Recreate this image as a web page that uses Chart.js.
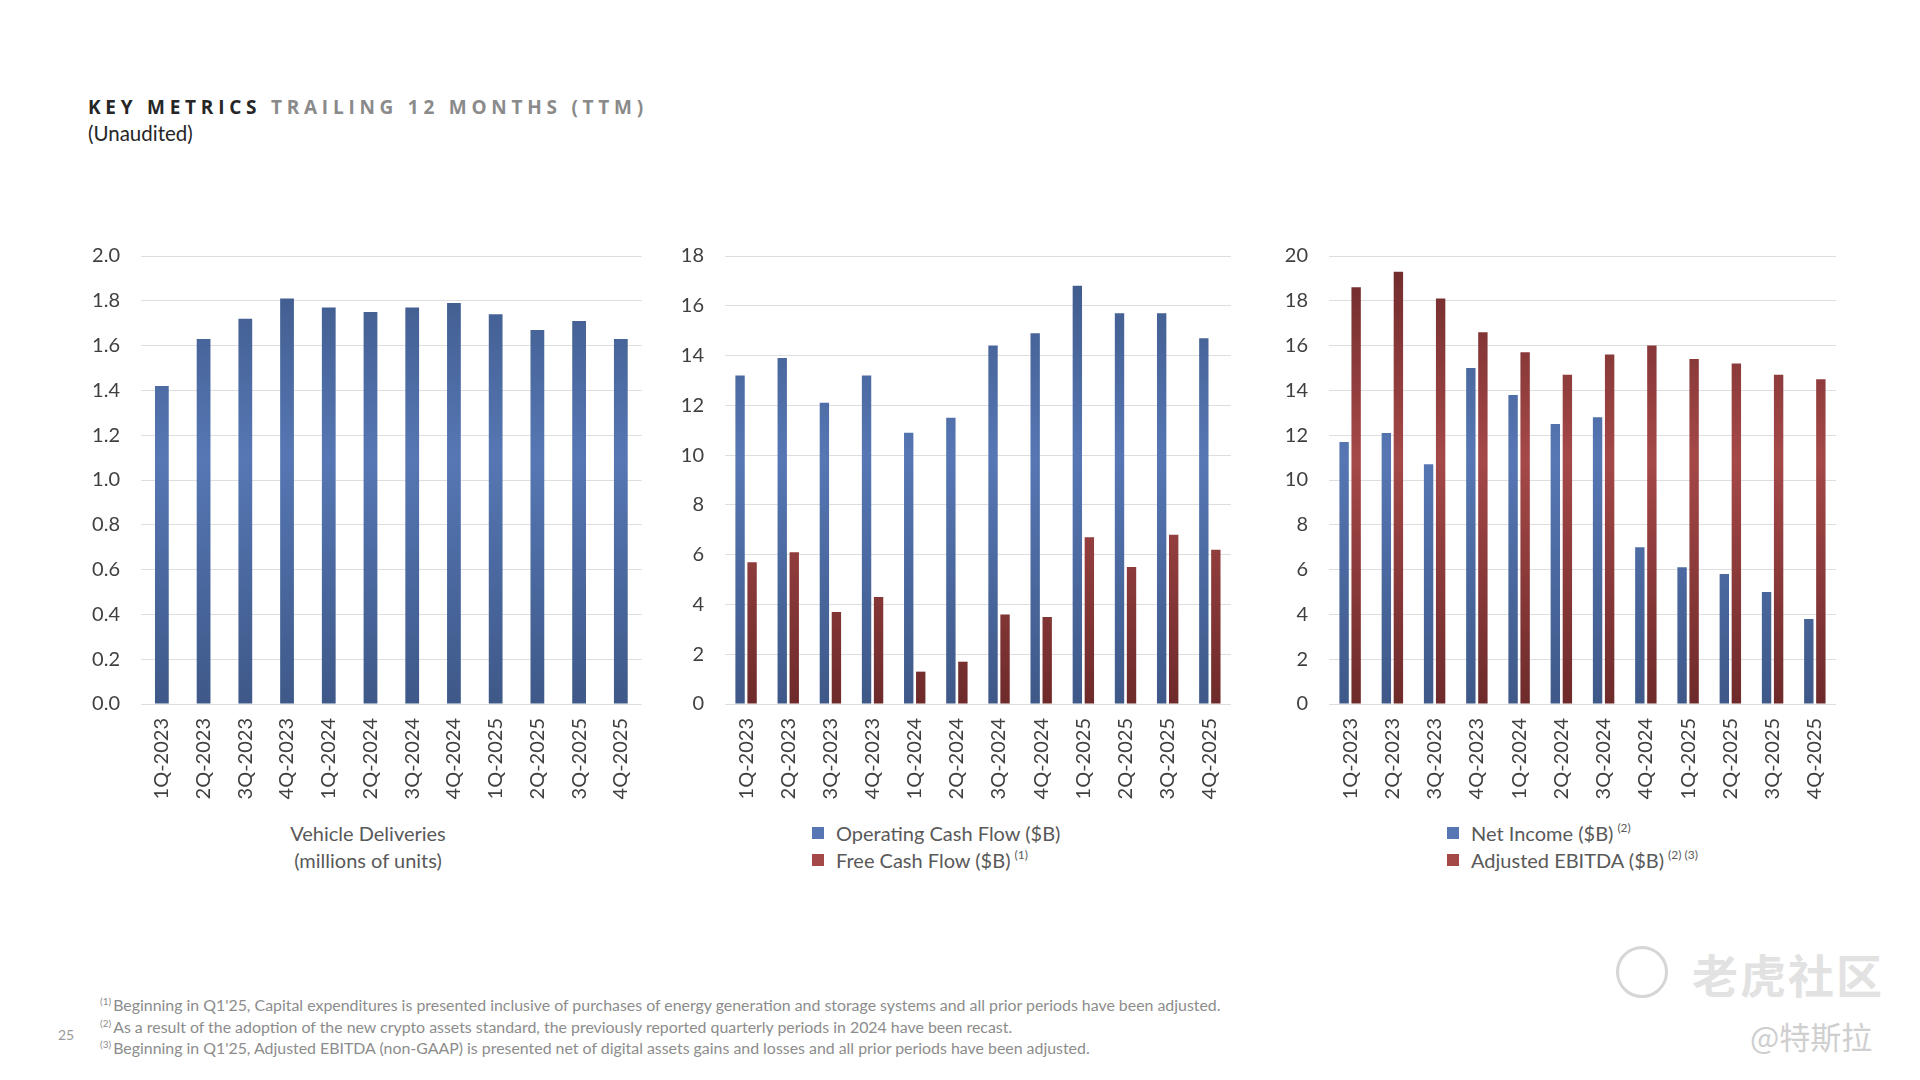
<!DOCTYPE html>
<html>
<head>
<meta charset="utf-8">
<script src="https://cdn.jsdelivr.net/npm/chart.js@4.4.1/dist/chart.umd.min.js"></script>
<style>
  body { margin: 0; width: 1920px; height: 1080px; background: #ffffff; position: relative; overflow: hidden; font-family: Lato, "Open Sans", sans-serif; }
  .abs { position: absolute; }
  .chart-box { position: absolute; }
  #title { left: 88px; top: 94px; font-family: "Open Sans", sans-serif; font-weight: 700; font-size: 19px; letter-spacing: 4.75px; color: #262626; white-space: nowrap; }
  #title span { color: #8a8a8a; }
  #sub { left: 88px; top: 121px; font-size: 20.5px; color: #262626; }
  .legend { position: absolute; font-size: 20px; color: #595959; line-height: 27px; white-space: nowrap; }
  .sq { display: inline-block; width: 12px; height: 12px; margin-right: 12px; vertical-align: 2px; }
  .legend sup { font-size: 12px; vertical-align: 9px; line-height: 0; margin-left: 4px; }
  .notes { left: 100px; top: 994px; font-size: 15.9px; color: #8c8c8c; line-height: 21.5px; white-space: nowrap; }
  .notes sup { font-size: 10px; vertical-align: 6px; line-height: 0; margin-right: 2px; }
</style>
</head>
<body>
<div id="title" class="abs">KEY METRICS <span>TRAILING 12 MONTHS (TTM)</span></div>
<div id="sub" class="abs">(Unaudited)</div>

<div class="chart-box" style="left:60px; top:223px; width:599px; height:581px;"><canvas id="deliveriesChart"></canvas></div>
<div class="chart-box" style="left:645px; top:223px; width:603px; height:581px;"><canvas id="cashChart"></canvas></div>
<div class="chart-box" style="left:1249px; top:223px; width:604px; height:581px;"><canvas id="earningsChart"></canvas></div>

<div class="legend" style="left:288px; top:820px; text-align:center; width:160px;">Vehicle Deliveries<br>(millions of units)</div>
<div class="legend" style="left:812px; top:820px;">
  <div><span class="sq" style="background:#5677b4"></span>Operating Cash Flow ($B)</div>
  <div><span class="sq" style="background:#a54848"></span>Free Cash Flow ($B)<sup>(1)</sup></div>
</div>
<div class="legend" style="left:1447px; top:820px;">
  <div><span class="sq" style="background:#5677b4"></span>Net Income ($B)<sup>(2)</sup></div>
  <div><span class="sq" style="background:#a54848"></span>Adjusted EBITDA ($B)<sup>(2) (3)</sup></div>
</div>

<div class="abs notes">
  <div><sup>(1)</sup>Beginning in Q1'25, Capital expenditures is presented inclusive of purchases of energy generation and storage systems and all prior periods have been adjusted.</div>
  <div><sup>(2)</sup>As a result of the adoption of the new crypto assets standard, the previously reported quarterly periods in 2024 have been recast.</div>
  <div><sup>(3)</sup>Beginning in Q1'25, Adjusted EBITDA (non-GAAP) is presented net of digital assets gains and losses and all prior periods have been adjusted.</div>
</div>
<div class="abs" style="left:58px; top:1026px; font-size:14px; color:#9a9a9a;">25</div>

<!-- watermark -->
<div class="abs" style="left:1616px; top:946px; width:46px; height:46px; border:3px solid #d6d6d6; border-radius:50%;"></div>
<div class="abs" style="left:1692px; top:940px; font-family:'Noto Sans CJK SC'; font-size:46px; font-weight:700; color:#e2e2e2; letter-spacing:2px;">老虎社区</div>
<div class="abs" style="left:1750px; top:1013px; font-family:'Noto Sans CJK SC'; font-size:31px; color:#cfcfcf;">@特斯拉</div>

<script>
// Categories and series (TTM values)
const quarters = ["1Q-2023", "2Q-2023", "3Q-2023", "4Q-2023", "1Q-2024", "2Q-2024",
  "3Q-2024", "4Q-2024", "1Q-2025", "2Q-2025", "3Q-2025", "4Q-2025"];

const deliveries = [1.42, 1.63, 1.72, 1.81, 1.77, 1.75, 1.77, 1.79, 1.74, 1.67, 1.71, 1.63];

const operatingCashFlow = [13.2, 13.9, 12.1, 13.2, 10.9, 11.5, 14.4, 14.9, 16.8, 15.7, 15.7, 14.7];
const freeCashFlow = [5.7, 6.1, 3.7, 4.3, 1.3, 1.7, 3.6, 3.5, 6.7, 5.5, 6.8, 6.2];

const netIncome = [11.7, 12.1, 10.7, 15.0, 13.8, 12.5, 12.8, 7.0, 6.1, 5.8, 5.0, 3.8];
const adjustedEbitda = [18.6, 19.3, 18.1, 16.6, 15.7, 14.7, 15.6, 16.0, 15.4, 15.2, 14.7, 14.5];

// Axis ranges
const deliveryAxis = { max: 2.0, step: 0.2 };
const cashAxis = { max: 18, step: 2 };
const earningsAxis = { max: 20, step: 2 };

const BLUE = ["#3e5888", "#5677b4"];
const RED = ["#6e2a2a", "#a54848"];

// Slight top/bottom shading like the original Excel bars
function barFill(colors) {
  return (context) => {
    const area = context.chart.chartArea;
    if (!area) return colors[1];
    const g = context.chart.ctx.createLinearGradient(0, area.top, 0, area.bottom);
    g.addColorStop(0, colors[0]);
    g.addColorStop(0.45, colors[1]);
    g.addColorStop(1, colors[0]);
    return g;
  };
}

function buildOptions(axis, yWidth, decimals, catPct, barPct) {
  return {
    responsive: true,
    maintainAspectRatio: false,
    animation: false,
    datasets: { bar: { categoryPercentage: catPct, barPercentage: barPct } },
    layout: { padding: { top: 15, right: 4, left: 0, bottom: 0 } },
    plugins: { legend: { display: false }, tooltip: { enabled: false } },
    scales: {
      x: {
        grid: { display: false, drawTicks: false },
        border: { display: false },
        ticks: {
          color: "#404040",
          font: { family: "Lato", size: 20 },
          minRotation: 90,
          maxRotation: 90,
          padding: 14,
        },
        afterFit: (scale) => { scale.height = 100; },
      },
      y: {
        min: 0,
        max: axis.max,
        grid: { color: "#dedede", lineWidth: 1, drawTicks: false },
        border: { display: false },
        ticks: {
          stepSize: axis.step,
          color: "#404040",
          font: { family: "Lato", size: 20 },
          padding: 21,
          callback: (v) => Number(v).toFixed(decimals),
        },
        afterFit: (scale) => { scale.width = yWidth; },
      },
    },
  };
}

new Chart(document.getElementById("deliveriesChart"), {
  type: "bar",
  data: {
    labels: quarters,
    datasets: [
      { label: "Vehicle Deliveries", data: deliveries, backgroundColor: barFill(BLUE) },
    ],
  },
  options: buildOptions(deliveryAxis, 81, 1, 0.33, 1.0),
});

new Chart(document.getElementById("cashChart"), {
  type: "bar",
  data: {
    labels: quarters,
    datasets: [
      { label: "Operating Cash Flow ($B)", data: operatingCashFlow, backgroundColor: barFill(BLUE) },
      { label: "Free Cash Flow ($B)", data: freeCashFlow, backgroundColor: barFill(RED) },
    ],
  },
  options: buildOptions(cashAxis, 80, 0, 0.57, 0.78),
});

new Chart(document.getElementById("earningsChart"), {
  type: "bar",
  data: {
    labels: quarters,
    datasets: [
      { label: "Net Income ($B)", data: netIncome, backgroundColor: barFill(BLUE) },
      { label: "Adjusted EBITDA ($B)", data: adjustedEbitda, backgroundColor: barFill(RED) },
    ],
  },
  options: buildOptions(earningsAxis, 80, 0, 0.57, 0.78),
});
</script>
</body>
</html>
